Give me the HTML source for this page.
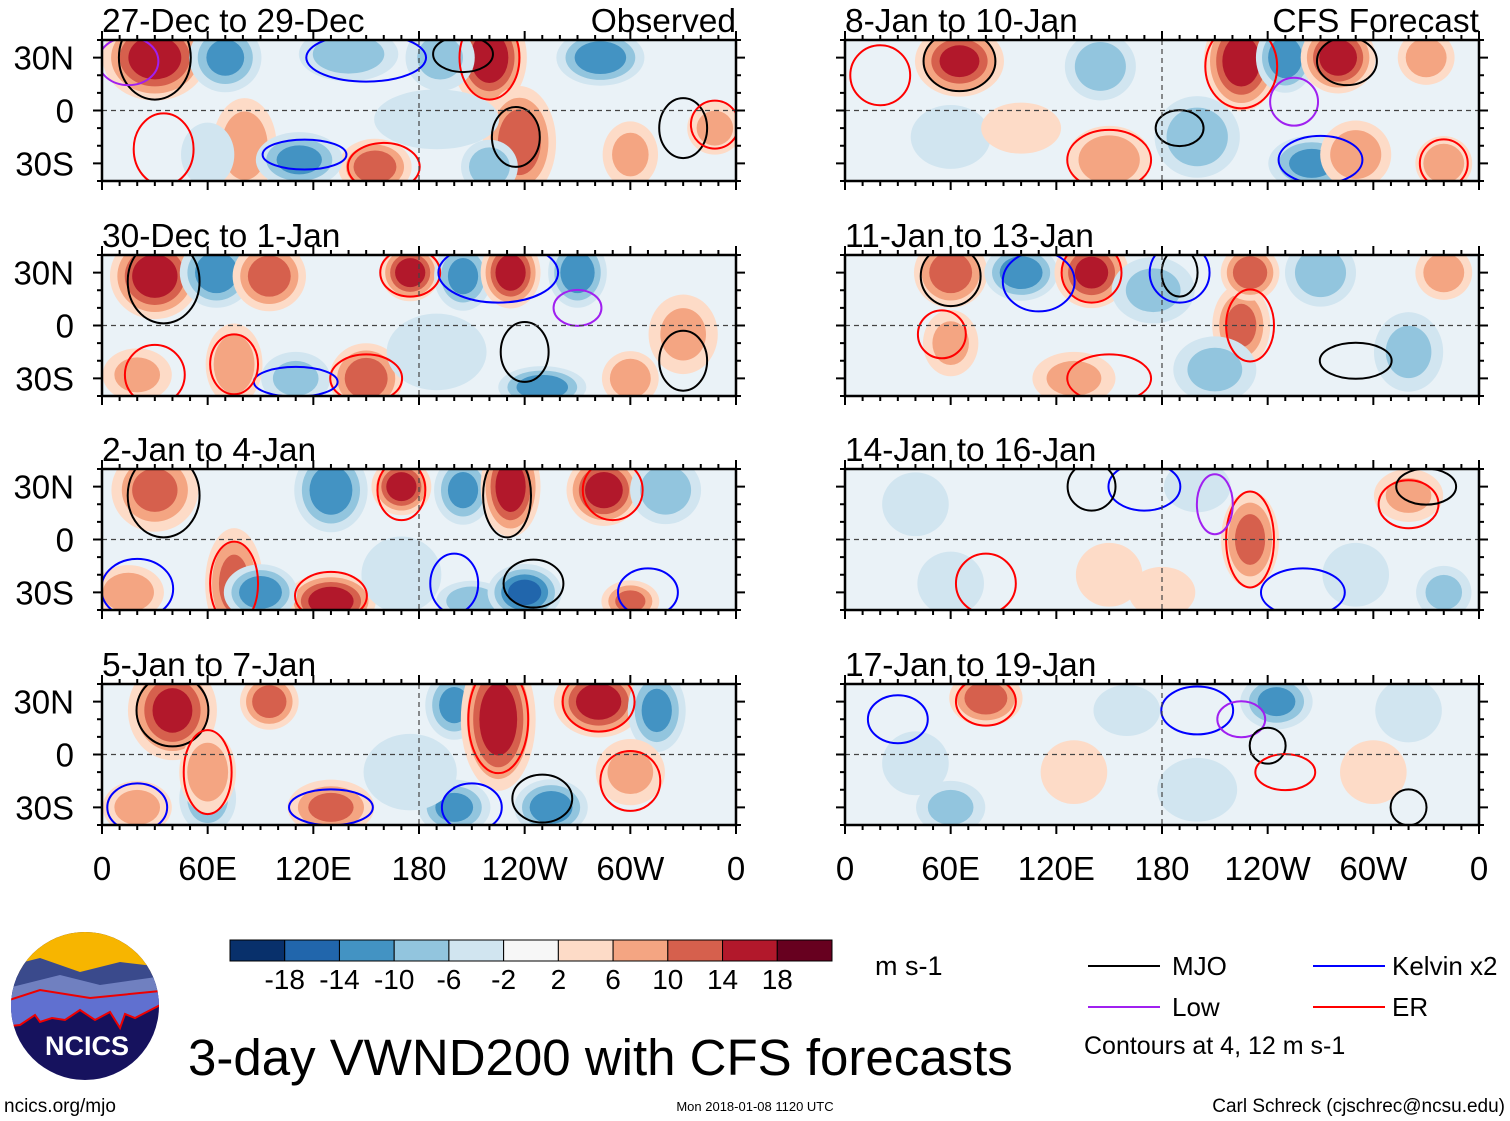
<!DOCTYPE html>
<html><head><meta charset="utf-8"><style>
body{margin:0;background:#fff}
svg{display:block;font-family:"Liberation Sans",sans-serif}
</style></head><body>
<svg id="s" width="1510" height="1121" viewBox="0 0 1510 1121" xmlns="http://www.w3.org/2000/svg">
<g id="panels"></g>
<g id="cbar"></g>
<g font-size="26">
<line x1="1088" y1="966" x2="1160" y2="966" stroke="#000" stroke-width="2"/>
<text x="1172" y="975">MJO</text>
<line x1="1313" y1="966" x2="1385" y2="966" stroke="#0000ff" stroke-width="2"/>
<text x="1392" y="975">Kelvin x2</text>
<line x1="1088" y1="1007" x2="1160" y2="1007" stroke="#a020f0" stroke-width="2"/>
<text x="1172" y="1016">Low</text>
<line x1="1313" y1="1007" x2="1385" y2="1007" stroke="#ff0000" stroke-width="2"/>
<text x="1392" y="1016">ER</text>
<text x="1084" y="1054" font-size="25">Contours at 4, 12 m s-1</text>
</g>
<text x="875" y="975" font-size="27">m s-1</text>
<text x="188" y="1075" font-size="51">3-day VWND200 with CFS forecasts</text>
<text x="4" y="1112" font-size="19">ncics.org/mjo</text>
<text x="755" y="1111" font-size="13" text-anchor="middle">Mon 2018-01-08 1120 UTC</text>
<text x="1505" y="1112" font-size="19" text-anchor="end">Carl Schreck (cjschrec@ncsu.edu)</text>
<g>
<clipPath id="lc"><circle cx="85" cy="1006" r="74"/></clipPath>
<g clip-path="url(#lc)">
<rect x="0" y="930" width="170" height="160" fill="#16125e"/>
<rect x="0" y="930" width="170" height="45" fill="#f7b500"/>
<path d="M0 968 L40 958 L80 972 L120 962 L170 968 L170 990 L0 1000Z" fill="#3a4a8c"/>
<path d="M0 990 L60 975 L100 985 L170 975 L170 1000 L0 1012Z" fill="#7080c0"/>
<path d="M0 1003 L40 990 L90 998 L170 990 L170 1000 L135 1018 L125 1014 L120 1028 L110 1012 L95 1020 L80 1010 L65 1020 L52 1018 L40 1022 L35 1015 L20 1025 L0 1027Z" fill="#6070d0" stroke="#e00" stroke-width="2"/>
</g>
<text x="87" y="1055" font-size="27" font-weight="bold" fill="#fff" text-anchor="middle">NCICS</text>
</g>
</svg>
<script>
const levels=[-18,-14,-10,-6,-2,2,6,10,14,18];
const colors=["#08306b","#2166ac","#4393c3","#92c5de","#d1e5f0","#f7f7f7","#fddbc7","#f4a582","#d6604d","#b2182b","#67001f"];
const lonTicks=["0","60E","120E","180","120W","60W","0"];
const latTicks=["30N","0","30S"];
const titles=["27-Dec to 29-Dec","30-Dec to 1-Jan","2-Jan to 4-Jan","5-Jan to 7-Jan","8-Jan to 10-Jan","11-Jan to 13-Jan","14-Jan to 16-Jan","17-Jan to 19-Jan"];
// anomaly blobs per panel: [lon, lat, value, lonRadius, latRadius]
const blobs0=[[30,30,18,14,12],[70,30,-12,10,10],[140,32,-10,14,8],[220,30,18,10,14],[237,-18,14,10,16],[81,-20,10,9,14],[155,-32,14,10,8],[348,-10,8,8,8],[112,-28,-12,12,8],[192,30,-8,10,10],[283,30,-14,12,8],[220,-32,-10,8,8],[300,-25,8,8,10],[60,-25,-6,8,10],[190,-5,-4,20,10]];
const blobs1=[[30,28,18,12,12],[65,30,-14,10,10],[95,28,14,10,10],[175,30,18,8,8],[205,28,-12,8,10],[232,30,18,8,10],[270,30,-14,8,10],[330,-5,8,10,12],[75,-22,10,8,12],[150,-30,14,10,10],[250,-35,-14,12,6],[20,-28,8,10,8],[300,-30,10,8,8],[110,-30,-8,10,8],[190,-15,-6,15,12]];
const blobs2=[[30,28,12,12,12],[130,28,-14,10,12],[170,30,18,8,8],[205,28,-12,8,10],[232,30,18,8,14],[285,28,18,10,10],[75,-25,12,8,16],[130,-35,18,12,8],[90,-30,-14,10,8],[210,-35,-10,10,6],[240,-30,-16,10,8],[300,-35,12,8,6],[15,-30,10,10,8],[170,-20,-6,12,12],[320,28,-10,10,10]];
const blobs3=[[40,25,16,12,14],[95,30,14,8,8],[200,28,-12,8,10],[225,20,18,10,20],[282,30,18,12,10],[315,25,-12,8,12],[60,-25,-10,8,10],[60,-10,10,8,12],[130,-30,12,12,8],[200,-30,-12,10,8],[255,-30,-14,10,8],[300,-10,8,10,10],[20,-30,8,10,8],[175,-10,-6,14,12]];
const blobs4=[[65,28,16,12,10],[145,25,-10,10,10],[225,28,18,10,14],[250,30,-14,8,10],[280,30,18,10,10],[330,30,10,8,8],[200,-15,-10,12,12],[150,-28,10,12,10],[265,-30,-12,12,8],[290,-25,10,10,10],[340,-30,10,8,8],[60,-15,-6,12,10],[100,-10,6,12,8]];
const blobs5=[[60,30,14,10,10],[100,30,-14,10,8],[140,30,16,10,10],[175,20,-8,12,10],[225,0,12,8,12],[270,30,-10,10,10],[230,30,14,8,8],[60,-10,8,8,10],[130,-30,8,12,8],[210,-25,-8,12,10],[320,-15,-8,10,12],[340,30,10,8,8]];
const blobs6=[[230,0,12,8,14],[60,-25,-6,10,10],[150,-20,6,10,10],[290,-20,-6,10,10],[320,25,8,10,8],[40,20,-6,10,10],[200,30,-6,10,8],[180,-30,6,10,8],[340,-30,-8,8,8]];
const blobs7=[[80,32,14,10,8],[245,30,-12,10,8],[40,-5,-6,10,10],[60,-30,-8,10,8],[200,-20,-6,12,10],[300,-10,6,10,10],[160,25,-6,10,8],[320,25,-6,10,10],[130,-10,6,10,10]];
const allBlobs=[blobs0,blobs1,blobs2,blobs3,blobs4,blobs5,blobs6,blobs7];
// contours per panel: [type, lon, lat, lonRadius, latRadius]
const cont0=[["k",30,30,12,14],["r",35,-22,10,12],["b",150,30,20,8],["r",220,30,10,14],["k",235,-15,8,10],["b",115,-25,14,5],["r",160,-32,12,8],["k",330,-10,8,10],["p",15,28,10,8],["k",205,32,10,6],["r",348,-8,8,8]];
const cont1=[["k",35,25,12,14],["r",30,-28,10,10],["r",175,30,10,8],["b",225,30,20,10],["k",240,-15,8,10],["r",150,-30,12,8],["b",110,-32,14,5],["k",330,-20,8,10],["r",75,-22,8,10],["p",270,10,8,6]];
const cont2=[["k",35,25,12,14],["b",20,-28,12,10],["r",170,28,8,10],["k",230,25,8,14],["r",290,28,10,10],["r",75,-25,8,14],["k",245,-25,10,8],["b",200,-25,8,10],["r",130,-32,12,8],["b",310,-30,10,8]];
const cont3=[["k",40,25,12,12],["r",225,20,10,18],["r",282,30,12,10],["b",130,-30,14,6],["k",250,-25,10,8],["r",60,-10,8,14],["b",210,-30,10,8],["r",300,-15,10,10],["b",20,-30,10,8]];
const cont4=[["k",65,28,12,10],["r",225,25,12,14],["k",285,28,10,8],["b",270,-28,14,8],["r",150,-28,14,10],["k",190,-10,8,6],["r",20,20,10,10],["p",255,5,8,8],["r",340,-30,8,8]];
const cont5=[["k",60,28,10,10],["r",140,30,10,10],["b",110,25,12,10],["r",230,0,8,12],["k",290,-20,12,6],["b",190,30,10,10],["r",55,-5,8,8],["r",150,-30,14,8],["k",190,30,6,8]];
const cont6=[["r",230,0,8,16],["b",170,30,12,8],["k",140,30,8,8],["p",210,20,6,10],["r",80,-25,10,10],["b",260,-30,14,8],["r",320,20,10,8],["k",330,30,10,6]];
const cont7=[["r",80,30,10,8],["b",200,25,12,8],["p",225,20,8,6],["k",240,5,6,6],["k",320,-30,6,6],["b",30,20,10,8],["r",250,-10,10,6]];
const allCont=[cont0,cont1,cont2,cont3,cont4,cont5,cont6,cont7];

const NS="http://www.w3.org/2000/svg";
const mk=(t,a,p)=>{const e=document.createElementNS(NS,t);for(const k in a)e.setAttribute(k,a[k]);p.appendChild(e);return e;};
const PX=[102,845],PY=[40,255,469,684],PW=634,PH=141;
const cc={k:"#000",b:"#0000ff",p:"#a020f0",r:"#ff0000"};
const root=document.getElementById("panels");
function colorFor(v){let i=0;while(i<levels.length&&v>levels[i])i++;return colors[i];}
for(let p=0;p<8;p++){
  const col=p<4?0:1,row=p%4,x0=PX[col],y0=PY[row];
  const xs=lon=>x0+lon/360*PW, ys=lat=>y0+PH/2-lat/80*PH;
  const g=mk("g",{},root);
  
  
  const cp=mk("clipPath",{id:"c"+p},g);
  mk("rect",{x:x0,y:y0,width:PW,height:PH},cp);
  const inner=mk("g",{"clip-path":"url(#c"+p+")"},g);
  mk("rect",{x:x0,y:y0,width:PW,height:PH,fill:"#eaf2f7"},inner);
  allBlobs[p].forEach(b=>{
    const [lon,lat,v,rl,rt]=b,a=Math.abs(v),sg=Math.sign(v);
    const th=[2,6,10,14,18].filter(l=>l<a);
    th.forEach(l=>{
      const f=1-l/(a+3)*0.8;
      const e=mk("ellipse",{cx:xs(lon),cy:ys(lat),rx:rl/360*PW*f*2.3,ry:rt/80*PH*f*2.2,fill:colorFor(sg*(l+1))},inner);
      
      
    });
  });
  allCont[p].forEach(c=>{
    const e=mk("ellipse",{cx:xs(c[1]),cy:ys(c[2]),rx:c[3]/360*PW*1.7,ry:c[4]/80*PH*1.7,fill:"none",stroke:cc[c[0]],"stroke-width":2},inner);
    
    
  });
  mk("line",{x1:x0,y1:ys(0),x2:x0+PW,y2:ys(0),stroke:"#444","stroke-dasharray":"5,4","stroke-width":1.2},g);
  mk("line",{x1:xs(180),y1:y0,x2:xs(180),y2:y0+PH,stroke:"#444","stroke-dasharray":"5,4","stroke-width":1.2},g);
  mk("rect",{x:x0,y:y0,width:PW,height:PH,fill:"none",stroke:"#000","stroke-width":2.5},g);
  for(let l=0;l<=360;l+=10){const L=l%60==0?9:5;
    mk("line",{x1:xs(l),y1:y0+PH,x2:xs(l),y2:y0+PH+L,stroke:"#000","stroke-width":2},g);
    mk("line",{x1:xs(l),y1:y0,x2:xs(l),y2:y0-L,stroke:"#000","stroke-width":2},g);}
  for(let t=-40;t<=40;t+=10){const L=t%30==0?9:5;
    mk("line",{x1:x0,y1:ys(t),x2:x0-L,y2:ys(t),stroke:"#000","stroke-width":2},g);
    mk("line",{x1:x0+PW,y1:ys(t),x2:x0+PW+L,y2:ys(t),stroke:"#000","stroke-width":2},g);}
  const t=mk("text",{x:x0,y:y0-8,"font-size":33.5},g);t.textContent=titles[p];
  
  
  if(row==0){const s=mk("text",{x:x0+PW,y:y0-8,"font-size":33.5,"text-anchor":"end"},g);s.textContent=col==0?"Observed":"CFS Forecast";
    
    }
  if(col==0){[30,0,-30].forEach((lt,i)=>{const tt=mk("text",{x:74,y:ys(lt)+12,"font-size":33,"text-anchor":"end"},g);tt.textContent=latTicks[i];
    
    });}
  if(row==3){lonTicks.forEach((lb,i)=>{const tt=mk("text",{x:xs(i*60),y:880,"font-size":33,"text-anchor":"middle"},g);tt.textContent=lb;
    
    });}
}
const cb=document.getElementById("cbar");const bw=602/11;
colors.forEach((c,i)=>{const r=mk("rect",{x:230+i*bw,y:940,width:bw,height:21,fill:c,stroke:"#000","stroke-width":1},cb);
  
  });
levels.forEach((l,i)=>{const t=mk("text",{x:230+(i+1)*bw,y:989,"font-size":28,"text-anchor":"middle"},cb);t.textContent=l;
  
  });
</script>
</body></html>
